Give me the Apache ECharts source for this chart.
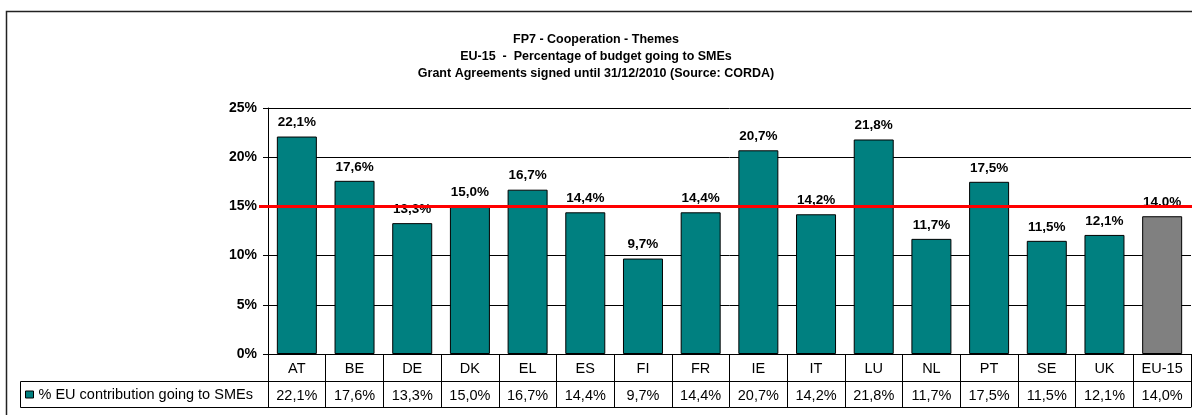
<!DOCTYPE html>
<html>
<head>
<meta charset="utf-8">
<title>FP7 - Cooperation - Themes: SME share of budget</title>
<script src="https://cdn.jsdelivr.net/npm/echarts@6/dist/echarts.min.js"></script>
<style>
  html, body { margin: 0; padding: 0; background: #fff; }
  #chart { width: 1192px; height: 415px; }
</style>
</head>
<body>
<div id="chart"></div>
<script>
// Member states plus the EU-15 aggregate
const categories = ['AT', 'BE', 'DE', 'DK', 'EL', 'ES', 'FI', 'FR', 'IE', 'IT', 'LU', 'NL', 'PT', 'SE', 'UK', 'EU-15'];
// % of EU contribution going to SMEs
const smeShare = [22.1, 17.6, 13.3, 15.0, 16.7, 14.4, 9.7, 14.4, 20.7, 14.2, 21.8, 11.7, 17.5, 11.5, 12.1, 14.0];
// 15% target line
const targetLevel = 15;
const yTicks = { min: 0, max: 25, interval: 5 };
const seriesName = '% EU contribution going to SMEs';
const titleLines = [
  'FP7 - Cooperation - Themes',
  'EU-15  -  Percentage of budget going to SMEs',
  'Grant Agreements signed until 31/12/2010 (Source: CORDA)'
];

const FONT = '"Liberation Sans", Arial, Helvetica, sans-serif';
const TABLE_FONT_SIZE = 14.5;
const fmtPct = v => v.toFixed(1).replace('.', ',') + '%';

const chart = echarts.init(document.getElementById('chart'), null, { renderer: 'canvas' });

const barData = smeShare.map((v, i) => ({
  value: v,
  itemStyle: { color: categories[i] === 'EU-15' ? '#808080' : '#008080' }
}));

chart.setOption({
  animation: false,
  backgroundColor: '#ffffff',
  textStyle: { fontFamily: FONT },
  title: {
    text: titleLines.join('\n'),
    left: 'center',
    top: 26,
    textStyle: { fontFamily: FONT, fontSize: 12.5, fontWeight: 'bold', color: '#000', lineHeight: 17 }
  },
  legend: {
    left: 25,
    top: 387,
    padding: 0,
    icon: 'rect',
    itemWidth: 8,
    itemHeight: 7,
    itemStyle: { borderColor: '#000', borderWidth: 1, color: '#008080' },
    textStyle: { fontFamily: FONT, fontSize: TABLE_FONT_SIZE, color: '#000' },
    selectedMode: false,
    data: [seriesName]
  },
  grid: { left: 268, right: 1, top: 108, bottom: 61, containLabel: false },
  xAxis: [
    {
      type: 'category',
      data: categories,
      position: 'bottom',
      axisLine: { show: true, lineStyle: { color: '#000', width: 1 } },
      axisTick: { show: true, length: 27, interval: 0, lineStyle: { color: '#000' } },
      axisLabel: { interval: 0, margin: 7, fontFamily: FONT, fontSize: TABLE_FONT_SIZE, color: '#000' },
      splitLine: { show: false }
    },
    {
      type: 'category',
      data: categories,
      position: 'bottom',
      offset: 27,
      axisLine: { show: true, lineStyle: { color: '#000', width: 1 } },
      axisTick: { show: true, length: 26, interval: 0, lineStyle: { color: '#000' } },
      axisLabel: {
        interval: 0, margin: 7, fontFamily: FONT, fontSize: TABLE_FONT_SIZE, color: '#000',
        formatter: (val, idx) => fmtPct(smeShare[idx])
      },
      splitLine: { show: false }
    },
    {
      type: 'category',
      data: categories,
      position: 'bottom',
      offset: 53,
      axisLine: { show: true, lineStyle: { color: '#000', width: 1 } },
      axisTick: { show: false },
      axisLabel: { show: false },
      splitLine: { show: false }
    }
  ],
  yAxis: {
    type: 'value',
    min: yTicks.min,
    max: yTicks.max,
    interval: yTicks.interval,
    axisLine: { show: true, lineStyle: { color: '#000', width: 1 } },
    axisTick: { show: true, length: 5, lineStyle: { color: '#000' } },
    axisLabel: {
      margin: 11, fontFamily: FONT, fontSize: 14, fontWeight: 'bold', color: '#000',
      formatter: '{value}%'
    },
    splitLine: { show: true, lineStyle: { color: '#000', width: 1 } }
  },
  series: [
    {
      name: seriesName,
      type: 'bar',
      xAxisIndex: 0,
      barWidth: 40,
      data: barData,
      itemStyle: { color: '#008080', borderColor: '#000', borderWidth: 1 },
      label: {
        show: true,
        position: 'top',
        distance: 7,
        fontFamily: FONT,
        fontSize: 13.5,
        fontWeight: 'bold',
        color: '#000',
        formatter: p => fmtPct(p.value)
      },
      markLine: {
        silent: true,
        z: 10,
        symbol: ['none', 'none'],
        label: { show: false },
        lineStyle: { color: '#ff0000', width: 3, type: 'solid' },
        emphasis: { disabled: true },
        data: [[{ yAxis: targetLevel, x: 259 }, { yAxis: targetLevel, x: 1192 }]]
      }
    }
  ],
  graphic: [
    {
      type: 'rect',
      silent: true,
      shape: { x: 6.5, y: 11.5, width: 1200, height: 420 },
      style: { fill: null, stroke: '#222', lineWidth: 1.5 }
    },
    {
      type: 'rect',
      silent: true,
      shape: { x: 20.5, y: 381.5, width: 248, height: 26 },
      style: { fill: null, stroke: '#000', lineWidth: 1 }
    }
  ]
});
</script>
</body>
</html>
